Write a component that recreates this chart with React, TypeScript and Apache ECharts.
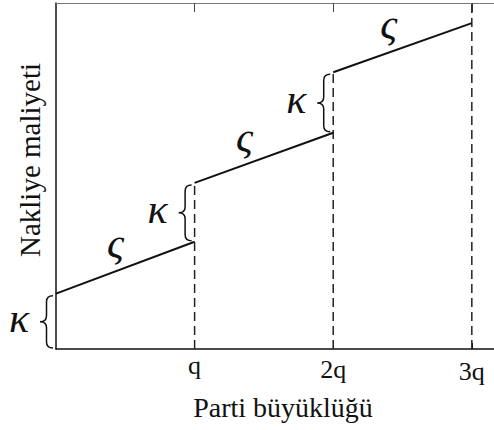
import React, { useEffect, useRef } from "react";
import * as echarts from "echarts";

// Data (x in units of q, y in arbitrary cost units)
const segment1: number[][] = [[0, 16], [1, 31]];
const segment2: number[][] = [[1, 48], [2, 62.5]];
const segment3: number[][] = [[2, 80], [3, 94.2]];
const dashed1: number[][] = [[1, 0], [1, 48]];
const dashed2: number[][] = [[2, 0], [2, 80]];
const dashed3: number[][] = [[3, 0], [3, 100]];
// jumps: [x, lower y, upper y]
const jumps: number[][] = [[0, 0, 16], [1, 31, 48], [2, 62.5, 80]];
// slope labels anchored on the line: [x, y]
const slopeLabels: number[][] = [[0.43, 22.5], [1.36, 53.3], [2.4, 85.8]];
const tickValues = [1, 2, 3];
const tickLabels = ["q", "2q", "3q"];
const jumpSymbol = "κ";
const slopeSymbol = "ς";
const xTitle = "Parti büyüklüğü";
const yTitle = "Nakliye maliyeti";

const FONT = '"Liberation Serif", "Times New Roman", serif';
const GREEK_FONT = 'italic 42px "Liberation Serif", "DejaVu Serif", serif';
const INK = "#111";

export default function App() {
  const ref = useRef<HTMLDivElement>(null);
  useEffect(() => {
    if (!ref.current) return;
    const chart = echarts.init(ref.current, undefined, { renderer: "svg" });
    const solid = (data: number[][]) => ({
      type: "line",
      data,
      symbol: "none",
      silent: true,
      lineStyle: { color: INK, width: 2 },
    });
    const dashed = (data: number[][]) => ({
      type: "line",
      data,
      symbol: "none",
      silent: true,
      lineStyle: { color: "#222", width: 1.5, type: [9, 5] },
    });
    chart.setOption({
      animation: false,
      grid: { left: 56, right: 0, top: 3, bottom: 81, containLabel: false },
      xAxis: [
        {
          type: "value",
          position: "bottom",
          min: 0,
          max: 3.16,
          axisLine: { show: true, lineStyle: { color: INK, width: 1.5 } },
          axisTick: { show: true, inside: true, length: 6, customValues: tickValues, lineStyle: { color: INK } },
          splitLine: { show: false },
          axisLabel: {
            show: true,
            customValues: tickValues,
            margin: 3,
            formatter: (v: number) => {
              const i = tickValues.indexOf(Math.round(v));
              if (i < 0) return "";
              return "{s" + i + "|" + tickLabels[i] + "}";
            },
            rich: {
              s0: { fontFamily: FONT, fontSize: 26, color: INK, lineHeight: 26, padding: [0, 0, 0, 0] },
              s1: { fontFamily: FONT, fontSize: 26, color: INK, lineHeight: 26, padding: [9, 0, 0, 0] },
              s2: { fontFamily: FONT, fontSize: 26, color: INK, lineHeight: 26, padding: [12, 0, 0, 0] },
            },
          },
          name: xTitle,
          nameLocation: "middle",
          nameGap: 44,
          nameTextStyle: { fontFamily: FONT, fontSize: 28, color: INK, padding: [0, 0, 0, 16] },
        },
        {
          type: "value",
          position: "top",
          min: 0,
          max: 3.16,
          axisLine: { show: true, lineStyle: { color: "#777", width: 1 } },
          axisTick: { show: true, inside: true, length: 9, customValues: tickValues, lineStyle: { color: "#444" } },
          axisLabel: { show: false },
          splitLine: { show: false },
        },
      ],
      yAxis: {
        type: "value",
        min: 0,
        max: 100,
        axisLine: { show: true, lineStyle: { color: INK, width: 1.5 } },
        axisTick: { show: false },
        axisLabel: { show: false },
        splitLine: { show: false },
        name: yTitle,
        nameLocation: "middle",
        nameRotate: 90,
        nameGap: 12,
        nameTextStyle: { fontFamily: FONT, fontSize: 29, color: INK, padding: [0, 0, 0, 32] },
      },
      series: [
        dashed(dashed1),
        dashed(dashed2),
        dashed(dashed3),
        solid(segment1),
        solid(segment2),
        solid(segment3),
        {
          type: "custom",
          clip: false,
          silent: true,
          data: jumps,
          encode: { x: 0, y: [1, 2] },
          renderItem: (params: any, api: any) => {
            const x = api.value(0);
            const p0 = api.coord([x, api.value(1)]);
            const p1 = api.coord([x, api.value(2)]);
            const xr = p0[0] - 3;
            const w = 13;
            const xm = xr - w / 2;
            const xl = xr - w;
            const yt = p1[1] + 2;
            const yb = p0[1] - 1;
            const ym = (yt + yb) / 2;
            const r = 6;
            const d =
              `M${xr} ${yt} Q${xm} ${yt} ${xm} ${yt + r} L${xm} ${ym - r} ` +
              `Q${xm} ${ym} ${xl} ${ym} Q${xm} ${ym} ${xm} ${ym + r} ` +
              `L${xm} ${yb - r} Q${xm} ${yb} ${xr} ${yb}`;
            return {
              type: "group",
              children: [
                {
                  type: "path",
                  shape: { pathData: d },
                  style: { fill: "none", stroke: INK, lineWidth: 1.5 },
                },
                {
                  type: "text",
                  x: xl - 21,
                  y: ym - 4,
                  style: {
                    text: jumpSymbol,
                    fill: INK,
                    font: GREEK_FONT,
                    align: "center",
                    verticalAlign: "middle",
                  },
                },
              ],
            };
          },
        },
        {
          type: "custom",
          clip: false,
          silent: true,
          data: slopeLabels,
          encode: { x: 0, y: 1 },
          renderItem: (params: any, api: any) => {
            const p = api.coord([api.value(0), api.value(1)]);
            return {
              type: "text",
              x: p[0],
              y: p[1] - 28,
              style: {
                text: slopeSymbol,
                fill: INK,
                font: GREEK_FONT,
                align: "center",
                verticalAlign: "middle",
              },
            };
          },
        },
      ],
    });
    return () => chart.dispose();
  }, []);
  return (
    <div
      ref={ref}
      style={{ position: "absolute", left: 0, top: 0, width: 494, height: 430, background: "#fff" }}
    />
  );
}
